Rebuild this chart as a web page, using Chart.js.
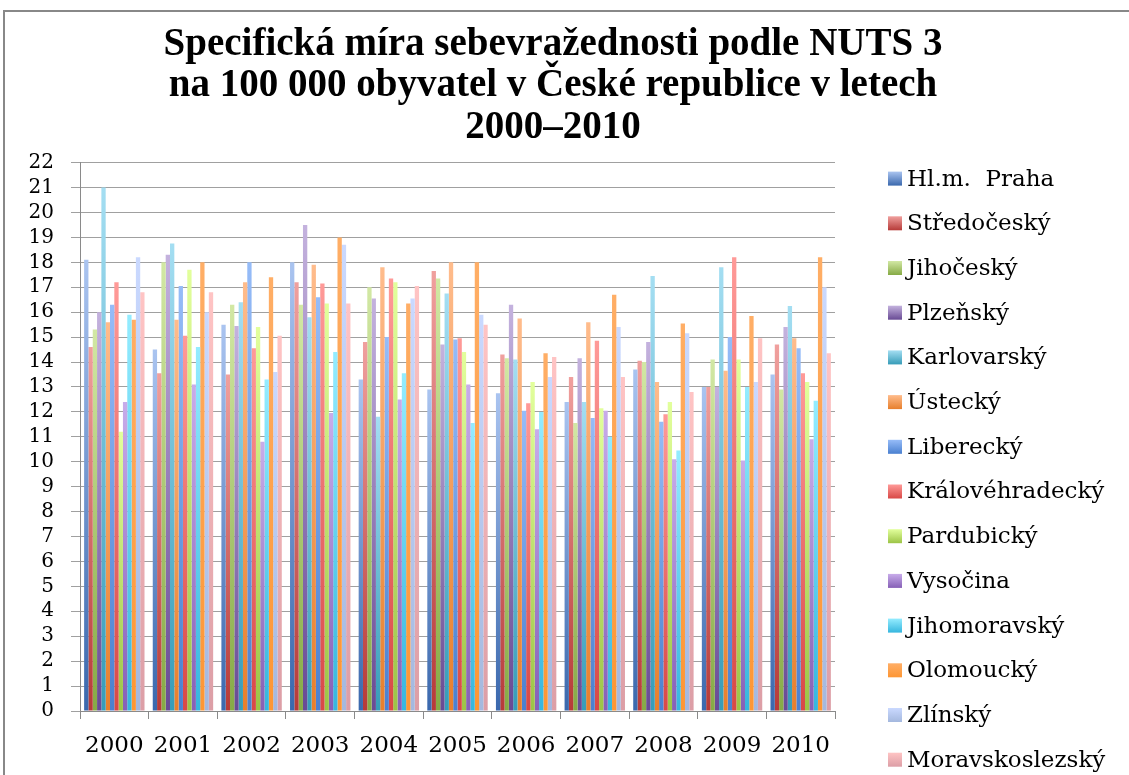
<!DOCTYPE html>
<html>
<head>
<meta charset="utf-8">
<script src="https://cdn.jsdelivr.net/npm/chart.js@4.4.1/dist/chart.umd.min.js"></script>
<style>
  html, body { margin: 0; padding: 0; background: #fff; overflow: hidden; }
  #wrap { position: relative; width: 1129px; height: 775px; }
</style>
</head>
<body>
<div id="wrap"><canvas id="c"></canvas></div>
<script>
// ---- data ----
const years = ['2000', '2001', '2002', '2003', '2004', '2005', '2006', '2007', '2008', '2009', '2010'];
const regions = ['Hl.m.  Praha', 'Středočeský', 'Jihočeský', 'Plzeňský', 'Karlovarský', 'Ústecký', 'Liberecký',
  'Královéhradecký', 'Pardubický', 'Vysočina', 'Jihomoravský', 'Olomoucký', 'Zlínský', 'Moravskoslezský'];
const praha           = [18.1, 14.5, 15.5, 18.0, 13.3, 12.9, 12.75, 12.4, 13.7, 13.0, 13.5];
const stredocesky     = [14.6, 13.55, 13.5, 17.2, 14.8, 17.65, 14.3, 13.4, 14.05, 13.0, 14.7];
const jihocesky       = [15.3, 18.0, 16.3, 16.3, 17.0, 17.35, 14.15, 11.55, 14.0, 14.1, 12.9];
const plzensky        = [16.0, 18.3, 15.45, 19.5, 16.55, 14.7, 16.3, 14.15, 14.8, 13.0, 15.4];
const karlovarsky     = [21.0, 18.75, 16.4, 15.8, 11.8, 16.75, 14.1, 12.4, 17.45, 17.8, 16.25];
const ustecky         = [15.6, 15.7, 17.2, 17.9, 17.8, 18.0, 15.75, 15.6, 13.2, 13.65, 14.95];
const liberecky       = [16.3, 17.05, 18.0, 16.6, 15.0, 14.9, 12.05, 11.75, 11.6, 15.0, 14.55];
const kralovehradecky = [17.2, 15.05, 14.55, 17.15, 17.35, 14.95, 12.35, 14.85, 11.9, 18.2, 13.55];
const pardubicky      = [11.2, 17.7, 15.4, 16.35, 17.2, 14.4, 13.2, 12.15, 12.4, 14.1, 13.2];
const vysocina        = [12.4, 13.1, 10.8, 11.95, 12.5, 13.1, 11.3, 12.05, 10.1, 10.05, 10.9];
const jihomoravsky    = [15.9, 14.6, 13.3, 14.4, 13.55, 11.55, 12.0, 11.0, 10.45, 13.0, 12.45];
const olomoucky       = [15.7, 18.0, 17.4, 19.0, 16.35, 18.0, 14.35, 16.7, 15.55, 15.85, 18.2];
const zlinsky         = [18.2, 16.0, 13.6, 18.7, 16.55, 15.9, 13.4, 15.4, 15.15, 13.2, 17.0];
const moravskoslezsky = [16.8, 16.8, 15.05, 16.35, 17.05, 15.5, 14.2, 13.4, 12.8, 14.95, 14.35];
const yTicks = [0, 22, 1]; // min, max, step
const titleLines = ['Specifická míra sebevražednosti podle NUTS 3', 'na 100 000 obyvatel v České republice v letech', '2000–2010'];

const seriesValues = [praha, stredocesky, jihocesky, plzensky, karlovarsky, ustecky, liberecky,
  kralovehradecky, pardubicky, vysocina, jihomoravsky, olomoucky, zlinsky, moravskoslezsky];

// ---- styles ----
const bottomColors = ['#3a68ad', '#b63a38', '#86aa45', '#684a94', '#369cb8', '#e77f2c', '#4a80d0',
  '#d84846', '#9cc446', '#8660b6', '#36b6de', '#fd9634', '#a4b8de', '#dc9ea6'];
const topColors = ['#aac4f0', '#f0a09e', '#d2e8a4', '#c4b2de', '#a4def2', '#ffbc8c', '#96bcf8',
  '#ff9a98', '#e2ff9c', '#c8acea', '#94ecff', '#ffae66', '#cad9ff', '#ffc4c4'];

function barFill(ctx, i) {
  const chart = ctx.chart;
  if (!chart.chartArea || ctx.type !== 'data' || !chart.scales.y) return bottomColors[i];
  const ys = chart.scales.y;
  const top = ys.getPixelForValue(ctx.raw);
  const bottom = ys.getPixelForValue(0);
  const g = chart.ctx.createLinearGradient(0, bottom, 0, top);
  g.addColorStop(0, bottomColors[i]);
  g.addColorStop(1, topColors[i]);
  return g;
}

const frame = {
  id: 'frame',
  beforeDraw(chart) {
    const c = chart.ctx;
    c.save();
    c.fillStyle = '#fff';
    c.fillRect(0, 0, chart.width, chart.height);
    c.strokeStyle = '#888';
    c.lineWidth = 2;
    c.beginPath();
    c.moveTo(4, chart.height + 5);
    c.lineTo(4, 11);
    c.lineTo(chart.width + 5, 11);
    c.stroke();
    c.restore();
  }
};

const sideLegend = {
  id: 'sideLegend',
  afterDraw(chart) {
    const c = chart.ctx;
    const area = chart.chartArea;
    c.save();
    c.font = '23px "DejaVu Serif"';
    c.textBaseline = 'middle';
    c.textAlign = 'left';
    chart.data.datasets.forEach((ds, i) => {
      const cy = area.top + 16 + i * 44.7;
      const bx = area.right + 53;
      const g = c.createLinearGradient(0, cy + 7, 0, cy - 7);
      g.addColorStop(0, bottomColors[i]);
      g.addColorStop(1, topColors[i]);
      c.fillStyle = g;
      c.fillRect(bx, cy - 7, 14, 14);
      c.fillStyle = '#000';
      c.fillText(ds.label, bx + 19, cy + 1);
    });
    c.restore();
  }
};

const datasets = regions.map((name, i) => ({
  label: name,
  data: seriesValues[i],
  backgroundColor: (ctx) => barFill(ctx, i),
  borderWidth: 0,
  categoryPercentage: 0.88,
  barPercentage: 1.0
}));

new Chart(document.getElementById('c'), {
  type: 'bar',
  data: { labels: years, datasets },
  plugins: [frame, sideLegend],
  options: {
    responsive: true,
    maintainAspectRatio: false,
    animation: false,
    layout: { padding: { left: 0, right: 23, top: 0, bottom: 0 } },
    plugins: {
      legend: { display: false },
      tooltip: { enabled: false },
      title: {
        display: true,
        text: titleLines,
        color: '#000',
        font: { family: '"Liberation Serif"', size: 39, weight: 'bold', lineHeight: 1.065 },
        padding: { top: 24, bottom: 14 }
      }
    },
    scales: {
      x: {
        grid: { display: true, drawOnChartArea: false, drawTicks: true, tickLength: 8, color: '#8a8a8a', offset: true },
        border: { display: true, color: '#8a8a8a', width: 1 },
        ticks: { color: '#000', font: { family: '"DejaVu Serif"', size: 23 }, padding: 13, maxRotation: 0 },
        afterFit(s) { s.height = 64; }
      },
      y: {
        min: yTicks[0], max: yTicks[1],
        ticks: { stepSize: yTicks[2], color: '#000', font: { family: '"DejaVu Serif"', size: 20 }, padding: 17, autoSkip: false },
        grid: { color: '#a0a0a0', lineWidth: 1, tickLength: 9 },
        border: { display: true, color: '#8a8a8a', width: 1 },
        afterFit(s) { s.width = 80; }
      },
      legendSpace: {
        type: 'linear',
        position: 'right',
        display: true,
        grid: { display: false, drawTicks: false },
        border: { display: false },
        ticks: { display: false },
        afterFit(s) { s.width = 271; }
      }
    }
  }
});
</script>
</body>
</html>
